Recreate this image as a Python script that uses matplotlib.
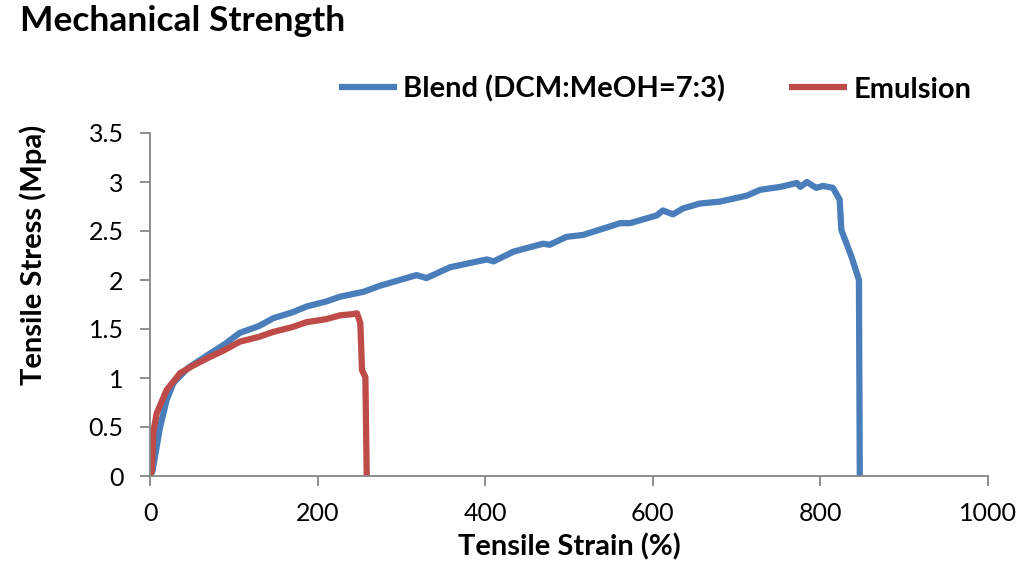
import matplotlib.pyplot as plt

plt.rcParams['font.family'] = ['Lato', 'DejaVu Sans']

# Blend (DCM:MeOH=7:3)
blend_strain = [0, 3, 8, 12, 20, 28, 45, 68, 90, 107, 130, 147, 170, 187, 210, 227, 255,
                274, 318, 330, 358, 402, 410, 434, 469, 477, 497, 517, 561, 573, 605, 612,
                624, 636, 656, 680, 696, 712, 728, 752, 772, 776, 784, 795, 803, 815, 823,
                825, 837, 846, 847]
blend_stress = [0, 0.05, 0.30, 0.50, 0.78, 0.95, 1.10, 1.23, 1.35, 1.46, 1.53, 1.61, 1.67,
                1.73, 1.78, 1.83, 1.88, 1.94, 2.05, 2.02, 2.13, 2.21, 2.19, 2.29, 2.37, 2.36,
                2.44, 2.46, 2.58, 2.58, 2.66, 2.71, 2.67, 2.73, 2.78, 2.80, 2.83, 2.86, 2.92,
                2.95, 2.99, 2.95, 3.00, 2.94, 2.96, 2.94, 2.82, 2.51, 2.24, 2.0, 0]

# Emulsion
emul_strain = [0, 2, 4, 8, 20, 36, 50, 68, 90, 107, 130, 147, 170, 187, 210, 227, 240, 247,
               251, 253, 257, 258.6]
emul_stress = [0, 0.05, 0.45, 0.64, 0.88, 1.05, 1.12, 1.20, 1.29, 1.37, 1.42, 1.47, 1.52,
               1.57, 1.60, 1.64, 1.65, 1.66, 1.56, 1.08, 1.01, 0]

fig = plt.figure(figsize=(10.24, 5.7), dpi=100)
ax = fig.add_axes([150/1024, 1-476/570, (988-150)/1024, (476-133)/570])

ax.plot(blend_strain, blend_stress, color='#4a7ebb', lw=4.5, label='Blend (DCM:MeOH=7:3)',
        solid_joinstyle='round', solid_capstyle='butt')
ax.plot(emul_strain, emul_stress, color='#be4b48', lw=4.5, label='Emulsion',
        solid_joinstyle='round', solid_capstyle='butt')

ax.set_xlim(0, 1000)
ax.set_ylim(0, 3.5)
ax.set_xticks([0, 200, 400, 600, 800, 1000])
ax.set_yticks([0, 0.5, 1, 1.5, 2, 2.5, 3, 3.5])
ax.set_yticklabels(['0', '0.5', '1', '1.5', '2', '2.5', '3', '3.5'])
for s in ['top', 'right']:
    ax.spines[s].set_visible(False)
for s in ['left', 'bottom']:
    ax.spines[s].set_color('#868686')
    ax.spines[s].set_linewidth(1.3)
ax.tick_params(colors='#868686', labelcolor='black', labelsize=18, length=7, width=1.3,
               pad=12)

ax.set_xlabel('Tensile Strain (%)', fontsize=21, fontweight='bold')
ax.set_ylabel('Tensile Stress (Mpa)', fontsize=21, fontweight='bold')
ax.xaxis.set_label_coords(0.5, (476-547)/343, transform=ax.transAxes)
ax.xaxis.label.set_va('center')
ax.yaxis.set_label_coords((33-150)/838, (476-255)/343, transform=ax.transAxes)
ax.yaxis.label.set_va('center')

fig.text(20/1024, 1-21/570, 'Mechanical Strength', fontsize=25.5, fontweight='bold',
         va='center', ha='left')

ax.legend(loc='center', bbox_to_anchor=(655/1024, 1-89/570), bbox_transform=fig.transFigure,
          ncol=2, frameon=False, prop={'weight': 'bold', 'size': 21},
          handlelength=2.0, handletextpad=0.2, columnspacing=2.2)

fig.savefig('out.png', dpi=100)
